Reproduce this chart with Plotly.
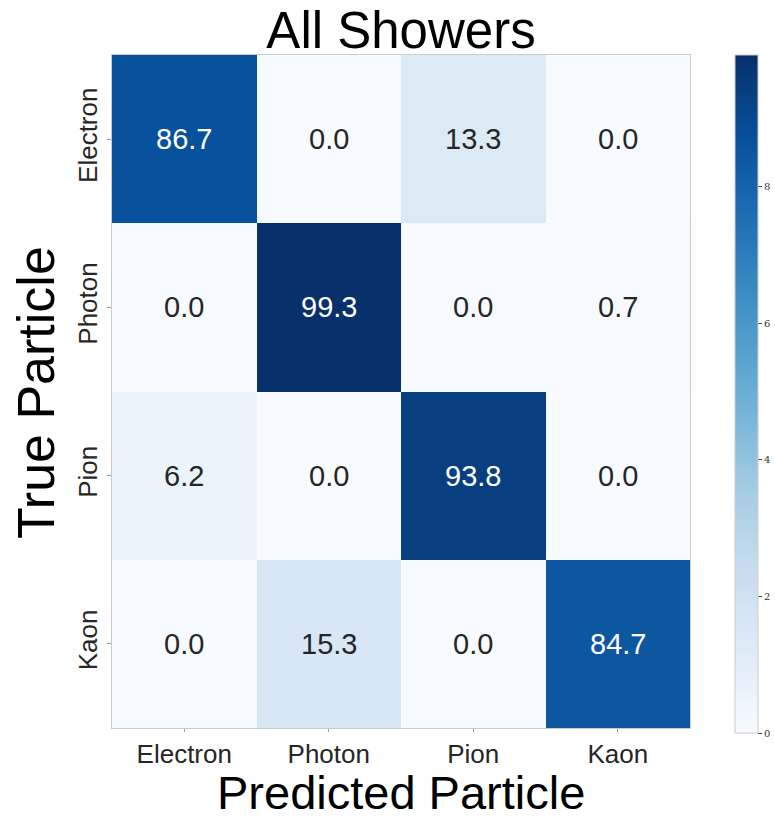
import plotly.graph_objects as go

pred_labels = ["Electron", "Photon", "Pion", "Kaon"]
true_labels = ["Electron", "Photon", "Pion", "Kaon"]
values = [
    [86.7, 0.0, 13.3, 0.0],
    [0.0, 99.3, 0.0, 0.7],
    [6.2, 0.0, 93.8, 0.0],
    [0.0, 15.3, 0.0, 84.7],
]
cbar_vals = [0, 20, 40, 60, 80]
cbar_text = ["0", "2", "4", "6", "8"]

W, H = 775, 818
ml, mr, mt, mb = 112, 25, 55, 90
pw = W - ml - mr
ph = H - mt - mb
dom_end = (690 - ml) / pw
cb_x = (725 - ml) / pw
zmax = max(max(r) for r in values)

fig = go.Figure()
fig.add_trace(go.Heatmap(
    z=values, x=pred_labels, y=true_labels,
    colorscale="Blues", zmin=0, zmax=zmax,
    colorbar=dict(
        x=cb_x, xanchor="left", thickness=23, len=(733 - 55) / ph, lenmode="fraction",
        y=1.0, yanchor="top", ypad=0,
        outlinecolor="#cccccc", outlinewidth=1,
        tickvals=cbar_vals, ticktext=cbar_text,
        ticks="outside", ticklen=4, tickcolor="#444",
        tickfont=dict(family="DejaVu Serif", size=10, color="#333"),
    ),
    hoverinfo="skip",
))

for i, row in enumerate(values):
    for j, v in enumerate(row):
        fig.add_annotation(
            x=pred_labels[j], y=true_labels[i], text=f"{v:.1f}", showarrow=False,
            font=dict(family="Liberation Sans", size=29,
                      color="white" if v > zmax * 0.6 else "#262626"),
        )

fig.add_annotation(text="Predicted Particle", xref="paper", yref="paper",
                   x=(401 - ml) / pw, y=-(792 - (H - mb)) / ph, xanchor="center", yanchor="middle",
                   showarrow=False, font=dict(family="Liberation Sans", size=47, color="black"))
fig.add_annotation(text="True Particle", xref="paper", yref="paper",
                   x=-(ml - 36) / pw, y=1 - (393 - mt) / ph, xanchor="center", yanchor="middle",
                   textangle=-90, showarrow=False,
                   font=dict(family="Liberation Sans", size=52, color="black"))

fig.update_layout(
    width=W, height=H,
    margin=dict(l=ml, r=mr, t=mt, b=mb, autoexpand=False),
    plot_bgcolor="white", paper_bgcolor="white",
    title=dict(text="All Showers", x=401 / W, xanchor="center",
               y=1 - 30 / H, yanchor="middle",
               font=dict(family="Liberation Sans", size=51, color="black")),
    xaxis=dict(domain=[0, dom_end], automargin=False,
               tickfont=dict(family="Liberation Sans", size=26, color="#262626"),
               ticks="outside", ticklen=3, tickcolor="#999",
               showline=True, linecolor="#cccccc", mirror=True,
               showgrid=False, zeroline=False),
    yaxis=dict(autorange="reversed", automargin=False,
               tickfont=dict(family="Liberation Sans", size=26, color="#262626"),
               tickangle=-90, ticks="outside", ticklen=4, tickcolor="#999",
               showline=True, linecolor="#cccccc", mirror=True,
               showgrid=False, zeroline=False),
)

fig.write_html("out.html", config={"displayModeBar": False},
               post_script="document.body.style.margin='0';document.body.style.overflow='hidden';")
